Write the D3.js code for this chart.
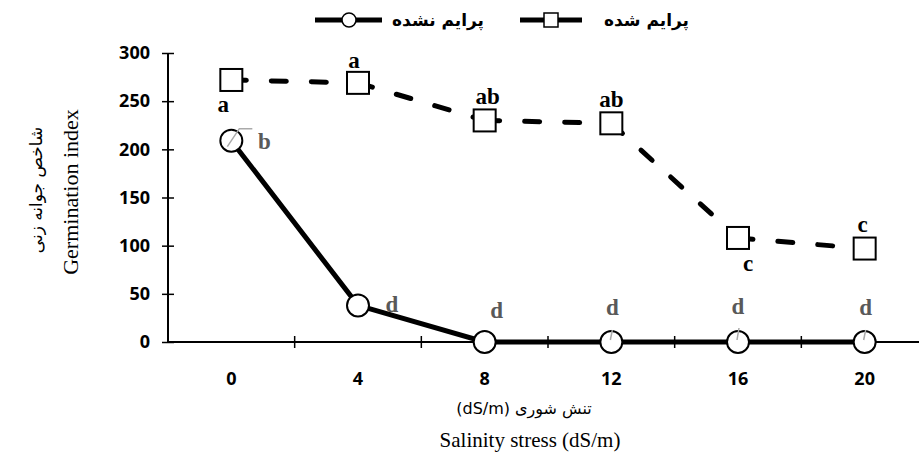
<!DOCTYPE html>
<html>
<head>
<meta charset="utf-8">
<script src="https://cdn.jsdelivr.net/npm/d3@7"></script>
<style>
  body { margin: 0; background: #fff; }
  svg { display: block; }
</style>
</head>
<body>
<div class="chart"></div>
<script>
// data
let salinity = ["0", "4", "8", "12", "16", "20"];
let unprimed = [209, 38, 0, 0, 0, 0];
let primed = [272, 269, 230, 227, 108, 97];
let unprimedLetters = ["b", "d", "d", "d", "d", "d"];
let primedLetters = ["a", "a", "ab", "ab", "c", "c"];
let yTicks = [0, 50, 100, 150, 200, 250, 300];

let width = 919, height = 460;

var svg = d3.select(".chart")
  .append("svg")
    .attr("width", width)
    .attr("height", height);

let x = d3.scaleBand()
    .domain(salinity)
    .range([168, 928]);

let y = d3.scaleLinear()
    .domain([0, 300])
    .range([342, 53]);

let cx = d => x(d) + x.bandwidth() / 2;

let tickFont = sel => sel
    .style("font-family", "'Open Sans', sans-serif")
    .style("font-weight", "bold")
    .style("font-size", "18px")
    .attr("fill", "#000");

// y axis
let yAxis = svg.append("g")
    .attr("transform", "translate(168,0)")
    .call(d3.axisLeft(y).tickValues(yTicks).tickSize(6).tickPadding(12));
yAxis.select(".domain").remove();
yAxis.append("line")
    .attr("y1", y(300)).attr("y2", y(0))
    .attr("stroke", "#000").attr("stroke-width", 2);
yAxis.selectAll(".tick line")
    .attr("x1", -6).attr("x2", 6)
    .attr("stroke-width", 1.5);
yAxis.selectAll(".tick text").call(tickFont);

// x axis
let xAxis = svg.append("g")
    .attr("transform", "translate(0," + y(0) + ")")
    .call(d3.axisBottom(x).tickSize(0).tickPadding(30));
xAxis.select(".domain").remove();
xAxis.append("line")
    .attr("x1", 168).attr("x2", width)
    .attr("stroke", "#000").attr("stroke-width", 2);
xAxis.selectAll(".bound")
    .data(salinity.slice(1))
    .enter()
    .append("line")
      .attr("x1", d => x(d)).attr("x2", d => x(d))
      .attr("y1", -6).attr("y2", 6)
      .attr("stroke", "#000").attr("stroke-width", 1.5);
xAxis.selectAll(".tick text").call(tickFont);

// dashed line for primed, drawn segment by segment so each dash run starts at a marker
for (let i = 0; i < primed.length - 1; i++) {
  svg.append("path")
    .datum([[cx(salinity[i]), y(primed[i])], [cx(salinity[i + 1]), y(primed[i + 1])]])
    .attr("fill", "none")
    .attr("stroke", "#000")
    .attr("stroke-width", 5)
    .attr("stroke-dasharray", "15,25")
    .attr("stroke-linecap", "round")
    .attr("d", d3.line());
}

// solid line for unprimed
svg.append("path")
    .datum(unprimed)
    .attr("fill", "none")
    .attr("stroke", "#000")
    .attr("stroke-width", 5)
    .attr("d", d3.line()
      .x((d, i) => cx(salinity[i]))
      .y(d => y(d)));

// markers
svg.selectAll(".sq")
    .data(primed)
    .enter()
    .append("rect")
      .attr("x", (d, i) => cx(salinity[i]) - 11)
      .attr("y", d => y(d) - 11)
      .attr("width", 22).attr("height", 22)
      .attr("fill", "#fff")
      .attr("stroke", "#000")
      .attr("stroke-width", 2);

svg.selectAll(".dot")
    .data(unprimed)
    .enter()
    .append("circle")
      .attr("cx", (d, i) => cx(salinity[i]))
      .attr("cy", d => y(d))
      .attr("r", 11)
      .attr("fill", "#fff")
      .attr("stroke", "#000")
      .attr("stroke-width", 2);

// grey leader lines from the circles to their letters
let leaders = [[[-4, 6], [8, -12], [21, -12]], null, null, [[-1, -2], [1, -12]], [[-1, -2], [1, -14]], [[-1, -2], [1, -12]]];
leaders.forEach((pts, i) => {
  if (!pts) return;
  svg.append("path")
    .attr("fill", "none")
    .attr("stroke", "#aaa")
    .attr("stroke-width", 1.5)
    .attr("d", d3.line()(pts.map(p => [cx(salinity[i]) + p[0], y(unprimed[i]) + p[1]])));
});

// letters
let primedOffsets = [[-8, 32], [-4, -15], [3, -16], [0, -16], [10, 33], [-2, -17]];
let unprimedOffsets = [[33, 8], [34, 7], [12, -24], [1, -27], [0, -28], [1, -27]];

svg.selectAll(".pl")
    .data(primed)
    .enter()
    .append("text")
      .attr("x", (d, i) => cx(salinity[i]) + primedOffsets[i][0])
      .attr("y", (d, i) => y(d) + primedOffsets[i][1])
      .attr("text-anchor", "middle")
      .style("font-family", "'Liberation Serif', serif")
      .style("font-weight", "bold")
      .style("font-size", "23px")
      .attr("fill", "#000")
      .text((d, i) => primedLetters[i]);

svg.selectAll(".ul")
    .data(unprimed)
    .enter()
    .append("text")
      .attr("x", (d, i) => cx(salinity[i]) + unprimedOffsets[i][0])
      .attr("y", (d, i) => y(d) + unprimedOffsets[i][1])
      .attr("text-anchor", "middle")
      .style("font-family", "'Liberation Serif', serif")
      .style("font-weight", "bold")
      .style("font-size", "23px")
      .attr("fill", "#595959")
      .text((d, i) => unprimedLetters[i]);

// axis titles
svg.append("text")
    .attr("transform", "translate(42,190) rotate(-90)")
    .attr("text-anchor", "middle")
    .attr("direction", "rtl")
    .style("font-family", "'DejaVu Sans', serif")
    .style("font-size", "17px")
    .text("شاخص جوانه زنی");

svg.append("text")
    .attr("transform", "translate(78,192) rotate(-90)")
    .attr("text-anchor", "middle")
    .style("font-family", "'Liberation Serif', serif")
    .style("font-size", "22px")
    .text("Germination index");

svg.append("text")
    .attr("x", 524).attr("y", 414)
    .attr("text-anchor", "middle")
    .attr("direction", "rtl")
    .style("font-family", "'DejaVu Sans', serif")
    .style("font-size", "16px")
    .text("تنش شوری (dS/m)");

svg.append("text")
    .attr("x", 530).attr("y", 447)
    .attr("text-anchor", "middle")
    .style("font-family", "'Liberation Serif', serif")
    .style("font-size", "21px")
    .text("Salinity stress (dS/m)");

// legend
let legend = svg.append("g");
legend.append("line")
    .attr("x1", 315).attr("x2", 382).attr("y1", 20).attr("y2", 20)
    .attr("stroke", "#000").attr("stroke-width", 5);
legend.append("circle")
    .attr("cx", 349).attr("cy", 20).attr("r", 7)
    .attr("fill", "#fff").attr("stroke", "#000").attr("stroke-width", 1.5);
legend.append("text")
    .attr("x", 484).attr("y", 26)
    .attr("text-anchor", "end")
    .style("font-family", "'DejaVu Sans', sans-serif")
    .style("font-weight", "bold")
    .style("font-size", "17px")
    .text("پرایم نشده");

legend.append("line")
    .attr("x1", 520).attr("x2", 582).attr("y1", 20).attr("y2", 20)
    .attr("stroke", "#000").attr("stroke-width", 5);
legend.append("rect")
    .attr("x", 544).attr("y", 13).attr("width", 14).attr("height", 14)
    .attr("fill", "#fff").attr("stroke", "#000").attr("stroke-width", 1.5);
legend.append("text")
    .attr("x", 689).attr("y", 26)
    .attr("text-anchor", "end")
    .style("font-family", "'DejaVu Sans', sans-serif")
    .style("font-weight", "bold")
    .style("font-size", "17px")
    .text("پرایم شده");
</script>
</body>
</html>
